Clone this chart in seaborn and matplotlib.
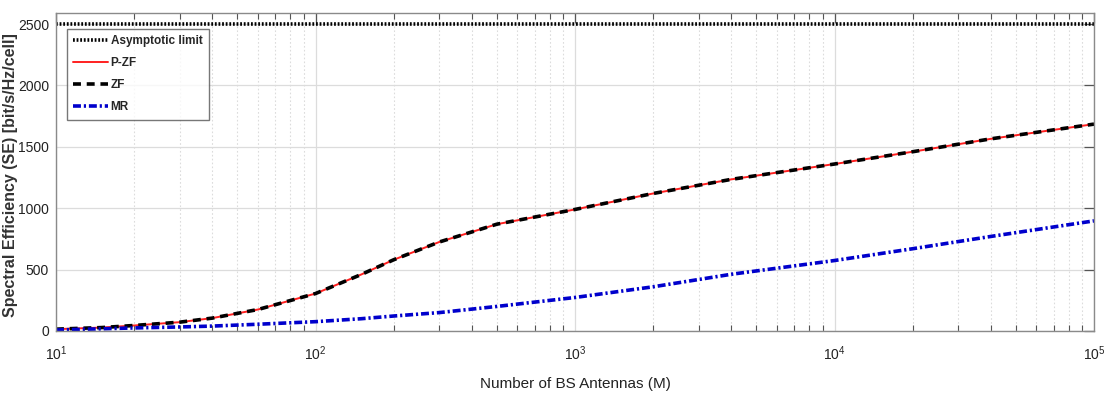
import matplotlib
matplotlib.use("Agg")
import matplotlib.pyplot as plt
import seaborn as sns
import numpy as np
import pandas as pd
from matplotlib.ticker import LogLocator, NullFormatter

M = [10, 15, 20, 30, 40, 60, 100, 150, 200, 300, 500, 1000, 2000, 4000,
     10000, 20000, 40000, 100000]
se_zf = [15, 28, 45, 72, 105, 175, 305, 460, 580, 725, 870, 990, 1120, 1235,
         1360, 1460, 1565, 1685]
se_pzf = [15, 28, 45, 72, 105, 175, 305, 460, 580, 725, 870, 990, 1120, 1235,
          1360, 1460, 1565, 1685]
se_mr = [8, 18, 25, 33, 40, 55, 76, 100, 122, 150, 200, 273, 360, 462,
         574, 670, 770, 897]
se_limit = [2500] * len(M)

sns.set_theme(style="white")
plt.rcParams['font.family'] = ['Liberation Sans', 'DejaVu Sans']

fig = plt.figure(figsize=(11.1, 3.94), dpi=100)
ax = fig.add_axes([56/1110, 63/394, (1094-56)/1110, (331-13)/394])

df = pd.DataFrame({"M": M, "limit": se_limit, "pzf": se_pzf, "zf": se_zf, "mr": se_mr})

sns.lineplot(data=df, x="M", y="limit", ax=ax, color="black", lw=2.6,
             linestyle=(0, (0.5, 0.5)), label="Asymptotic limit")
sns.lineplot(data=df, x="M", y="pzf", ax=ax, color="#ff2020", lw=1.4, label="P-ZF")
sns.lineplot(data=df, x="M", y="zf", ax=ax, color="black", lw=2.6,
             linestyle=(0, (2.2, 1.6)), label="ZF")
sns.lineplot(data=df, x="M", y="mr", ax=ax, color="#0000cc", lw=2.6,
             linestyle=(0, (2.2, 0.8, 0.6, 0.8)), label="MR")

ax.set_xscale("log")
ax.set_xlim(10, 1e5)
ax.set_ylim(0, 2590)
ax.set_yticks([0, 500, 1000, 1500, 2000, 2500])
ax.xaxis.set_major_locator(LogLocator(base=10, numticks=10))
ax.xaxis.set_minor_locator(LogLocator(base=10, subs=np.arange(2, 10), numticks=100))
ax.xaxis.set_minor_formatter(NullFormatter())

ax.grid(True, which="major", axis="both", color="#dcdcdc", lw=0.9, ls="-")
ax.grid(True, which="minor", axis="x", color="#dcdcdc", lw=0.8, ls=(0, (1.5, 2)))
ax.set_axisbelow(True)

for s in ax.spines.values():
    s.set_color("#8a8a8a")
    s.set_linewidth(1.0)
ax.tick_params(which="both", direction="in", top=True, right=True,
               color="#555555", labelsize=10)
ax.tick_params(axis="x", which="major", pad=10)
ax.tick_params(axis="y", which="major", pad=5)
ax.tick_params(which="major", length=7, width=0.9)
ax.tick_params(which="minor", length=4, width=0.8, bottom=True, top=True)
for lab in ax.get_xticklabels() + ax.get_yticklabels():
    lab.set_color("#222222")

ax.set_xlabel("Number of BS Antennas (M)", fontsize=11, color="#222222", labelpad=10)
ax.set_ylabel("Spectral Efficiency (SE) [bit/s/Hz/cell]", fontsize=11.5,
              fontweight="bold", color="#333333")
ax.yaxis.set_label_coords(-0.0365, 0.49)

leg = ax.legend(loc="upper left", bbox_to_anchor=(0.0106, 0.95), fontsize=8.5,
                frameon=True, fancybox=False, edgecolor="#555555", borderpad=0.55,
                handlelength=2.9, handletextpad=0.25, labelspacing=0.85,
                borderaxespad=0)
leg.get_frame().set_linewidth(1.0)
for t in leg.get_texts():
    t.set_fontweight("bold")

fig.savefig("out.png", dpi=100)
